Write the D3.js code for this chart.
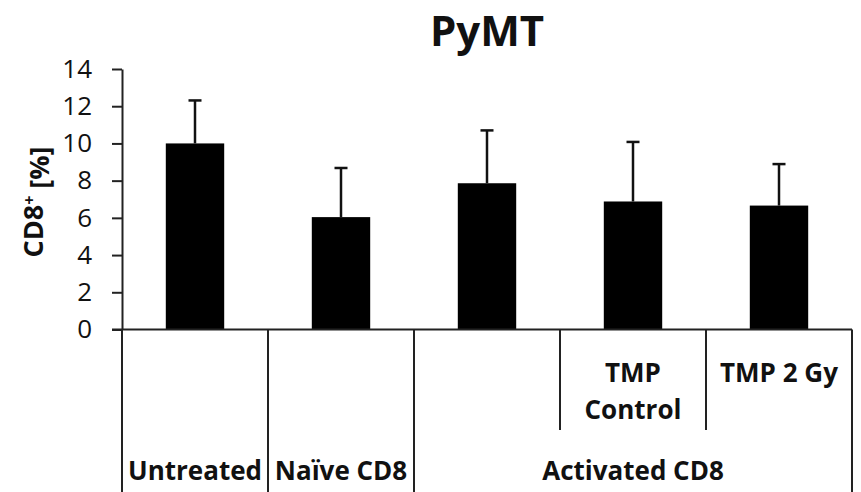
<!DOCTYPE html>
<html><head><meta charset="utf-8">
<script src="https://cdn.jsdelivr.net/npm/d3@7"></script>
<style>
html,body{margin:0;padding:0;background:#fff;}
svg{display:block;}
text{font-family:"Open Sans",sans-serif;fill:#111;}
</style></head>
<body>
<script>
// ---- data ----
const barKeys = ["Untreated", "Naïve CD8", "Activated CD8", "TMP Control", "TMP 2 Gy"];
const means = [10.0, 6.04, 7.86, 6.88, 6.66];
const errors = [2.31, 2.64, 2.84, 3.2, 2.23];
const subLabels = [[], [], [], ["TMP", "Control"], ["TMP 2 Gy"]];
const groupLabels = ["Untreated", "Naïve CD8", "Activated CD8"];
const groupSpans = [1, 1, 3];
const yTicks = [0, 2, 4, 6, 8, 10, 12, 14];
const title = "PyMT";
const yLabel = "CD8";

// ---- layout ----
const W = 861, H = 492;
const mLeft = 122, mRight = 852, mTop = 69, mBottom = 329.5;

const svg = d3.select("body").append("svg").attr("width", W).attr("height", H);

const x = d3.scaleBand().domain(barKeys).range([mLeft, mRight]).paddingInner(0.6).paddingOuter(0.3);
const y = d3.scaleLinear().domain([0, 14]).range([mBottom, mTop]);

// title
svg.append("text").attr("x", (mLeft + mRight) / 2).attr("y", 46)
  .attr("text-anchor", "middle").style("font-size", "42px").style("font-weight", "700").text(title);

// y axis
const yAxis = svg.append("g").attr("transform", `translate(${mLeft},0)`)
  .call(d3.axisLeft(y).tickValues(yTicks).tickSize(10).tickSizeOuter(0).tickPadding(20).tickFormat(d3.format("d")));
yAxis.select(".domain").attr("stroke", "#222").attr("stroke-width", 2);
yAxis.selectAll(".tick line").attr("stroke", "#222").attr("stroke-width", 2);
yAxis.selectAll(".tick text").style("font-size", "26px").style("font-family", "'Open Sans',sans-serif").attr("fill", "#111");

// y label
const yl = svg.append("text").attr("transform", "translate(43,202) rotate(-90)")
  .attr("text-anchor", "middle").style("font-size", "27px").style("font-weight", "700");
yl.append("tspan").text(yLabel);
yl.append("tspan").attr("dy", "-0.5em").style("font-size", "16px").text("+");
yl.append("tspan").attr("dy", "0.5em").text(" [%]");

// bars
svg.append("g").selectAll("rect").data(barKeys).join("rect")
  .attr("x", d => x(d)).attr("width", x.bandwidth())
  .attr("y", (d, i) => y(means[i])).attr("height", (d, i) => y(0) - y(means[i]))
  .attr("fill", "#000");

// error bars
const eg = svg.append("g").attr("stroke", "#111").attr("stroke-width", 2.5);
barKeys.forEach((d, i) => {
  const cx = x(d) + x.bandwidth() / 2;
  eg.append("line").attr("x1", cx).attr("x2", cx).attr("y1", y(means[i])).attr("y2", y(means[i] + errors[i]));
  eg.append("line").attr("x1", cx - 6.5).attr("x2", cx + 6.5).attr("y1", y(means[i] + errors[i])).attr("y2", y(means[i] + errors[i]));
});

// x axis line
svg.append("line").attr("x1", mLeft - 10).attr("x2", mRight).attr("y1", y(0)).attr("y2", y(0))
  .attr("stroke", "#222").attr("stroke-width", 2);

// category divider lines
const step = x.step();
const lg = svg.append("g").attr("stroke", "#222").attr("stroke-width", 2);
let acc = 0;
const groupBounds = [0];
groupSpans.forEach(s => { acc += s; groupBounds.push(acc); });
groupBounds.forEach(b => {
  const xx = mLeft + b * step;
  lg.append("line").attr("x1", xx).attr("x2", xx).attr("y1", y(0)).attr("y2", H);
});
for (let b = 1; b < barKeys.length; b++) {
  if (!groupBounds.includes(b)) {
    const xx = mLeft + b * step;
    lg.append("line").attr("x1", xx).attr("x2", xx).attr("y1", y(0)).attr("y2", 430);
  }
}

// sub labels
barKeys.forEach((d, i) => {
  const cx = x(d) + x.bandwidth() / 2;
  subLabels[i].forEach((t, j) => {
    svg.append("text").attr("x", cx).attr("y", 382 + j * 37)
      .attr("text-anchor", "middle").style("font-size", "26px").style("font-weight", "700").text(t);
  });
});

// group labels
acc = 0;
groupLabels.forEach((g, i) => {
  const x0 = mLeft + acc * step, x1 = mLeft + (acc + groupSpans[i]) * step;
  acc += groupSpans[i];
  svg.append("text").attr("x", (x0 + x1) / 2).attr("y", 480)
    .attr("text-anchor", "middle").style("font-size", "26px").style("font-weight", "700").text(g);
});
</script>
</body></html>
